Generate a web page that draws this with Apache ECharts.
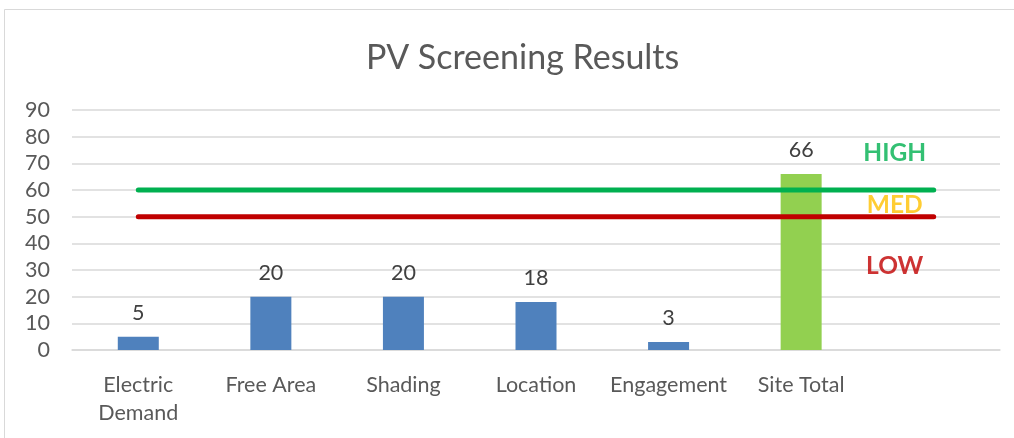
<!DOCTYPE html>
<html><head><meta charset="utf-8">
<script src="https://cdn.jsdelivr.net/npm/echarts@6/dist/echarts.min.js"></script>
<style>html,body{margin:0;padding:0;background:#fff}#c{width:1014px;height:438px}</style>
</head><body><div id="c"></div>
<script>
const categories = ['Electric\nDemand', 'Free Area', 'Shading', 'Location', 'Engagement', 'Site Total', ''];
const scores = [5, 20, 20, 18, 3, 66, null];
const highLine = [60, 60, 60, 60, 60, 60, 60];
const lowLine = [50, 50, 50, 50, 50, 50, 50];
const zoneNames = ['HIGH', 'MED', 'LOW'];
const zoneLabelValues = [74, 54.5, 31.3];
const zoneColors = ['#00b050', '#ffc000', '#c00000'];
const yTicks = {min: 0, max: 90, interval: 10};

const FONT = 'Lato, "Open Sans", sans-serif';
const chart = echarts.init(document.getElementById('c'), null, {renderer: 'canvas'});
chart.setOption({
  animation: false,
  backgroundColor: '#fff',
  graphic: [{type: 'rect', shape: {x: 4.5, y: 9.5, width: 1020, height: 440}, style: {fill: 'none', stroke: '#d9d9d9', lineWidth: 1}, silent: true}],
  title: {text: 'PV Screening Results', left: 361, top: 36, textStyle: {fontFamily: FONT, fontSize: 34, fontWeight: 'normal', color: '#595959'}},
  grid: {left: 72, right: 14, top: 110, bottom: 88},
  xAxis: {type: 'category', data: categories, axisTick: {show: false},
    axisLine: {lineStyle: {color: '#d9d9d9', width: 1.5}},
    axisLabel: {fontFamily: FONT, fontSize: 21.5, color: '#595959', margin: 21, lineHeight: 28, interval: 0}},
  yAxis: {type: 'value', min: yTicks.min, max: yTicks.max, interval: yTicks.interval,
    axisLine: {show: false}, axisTick: {show: false},
    splitLine: {lineStyle: {color: '#d9d9d9', width: 1.5}},
    axisLabel: {fontFamily: FONT, fontSize: 21.5, color: '#595959', margin: 22, align: 'right'}},
  series: [
    {type: 'bar', data: scores.map((v, i) => ({value: v, itemStyle: {color: i === 5 ? '#92d050' : '#4f81bd'}})),
      barWidth: 41, label: {show: true, position: 'top', distance: 13, fontFamily: FONT, fontSize: 21.5, color: '#404040'}, z: 2},
    {type: 'line', data: highLine, symbol: 'none', lineStyle: {color: '#00b050', width: 5, cap: 'round'}, z: 3},
    {type: 'line', data: lowLine, symbol: 'none', lineStyle: {color: '#c00000', width: 5, cap: 'round'}, z: 3},
    {type: 'scatter', symbolSize: 0, z: 4,
      data: zoneNames.map((n, i) => ({value: [6, zoneLabelValues[i]], name: n,
        label: {show: true, formatter: n, position: 'inside', offset: [-39, 0], color: zoneColors[i], fontFamily: FONT, fontSize: 24.5, fontWeight: 'bold'}}))}
  ]
});
</script></body></html>
